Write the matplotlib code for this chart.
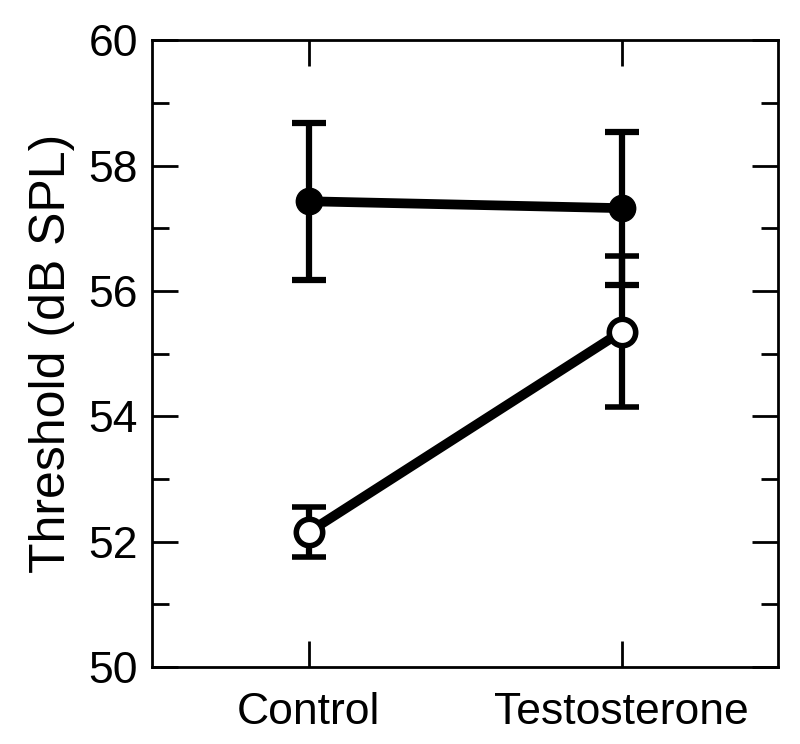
import matplotlib
matplotlib.use("Agg")
import matplotlib.pyplot as plt
from matplotlib.ticker import MultipleLocator

categories = ["Control", "Testosterone"]
filled_means = [57.43, 57.32]
filled_err = [1.25, 1.22]
open_means = [52.15, 55.35]
open_err = [0.40, 1.20]

plt.rcParams['font.family'] = ['Liberation Sans', 'DejaVu Sans']

fig = plt.figure(figsize=(8, 7.44), dpi=100)
ax = fig.add_axes([0.19, 0.1035, 0.7825, 0.8425])
x = list(range(len(categories)))

ax.errorbar(x, filled_means, yerr=filled_err, color='black', lw=7,
            elinewidth=4.5, capsize=12, capthick=4.5, marker='o', ms=19,
            mfc='black', mec='black', zorder=3)
ax.errorbar(x, open_means, yerr=open_err, color='black', lw=7,
            elinewidth=4.5, capsize=12, capthick=4.5, marker='o', ms=19,
            mfc='white', mec='black', mew=4, zorder=4)

ax.set_xlim(-0.5, 1.5)
ax.set_ylim(50, 60)
ax.set_xticks(x)
ax.set_xticklabels(categories, fontsize=32)
ax.yaxis.set_major_locator(MultipleLocator(2))
ax.yaxis.set_minor_locator(MultipleLocator(1))
ax.tick_params(axis='both', which='major', direction='in', length=19, width=2,
               top=True, right=True, labelsize=32, pad=10)
ax.tick_params(axis='y', which='minor', direction='in', length=12, width=2,
               right=True, left=True)
ax.tick_params(axis='x', which='major', pad=18)
for s in ax.spines.values():
    s.set_linewidth(2)
ax.set_ylabel("Threshold (dB SPL)", fontsize=36, labelpad=10)

fig.savefig("out.png", dpi=100)
